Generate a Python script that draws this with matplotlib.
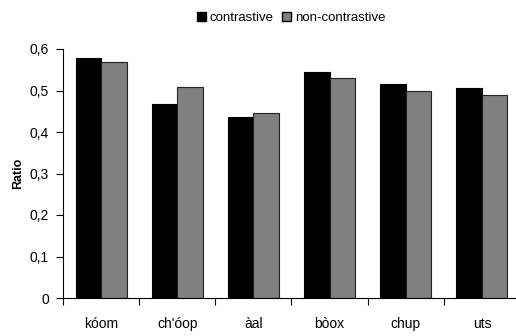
import numpy as np
import matplotlib.pyplot as plt
from matplotlib.patches import Patch

plt.rcParams['font.family'] = ['Liberation Sans', 'DejaVu Sans']

# data
categories = ['kóom', "ch'óop", 'àal', 'bòox', 'chup', 'uts']
contrastive = [0.578, 0.468, 0.435, 0.545, 0.516, 0.505]
non_contrastive = [0.569, 0.508, 0.446, 0.531, 0.500, 0.488]
yticks = [0, 0.1, 0.2, 0.3, 0.4, 0.5, 0.6]
ytick_labels = ['0', '0,1', '0,2', '0,3', '0,4', '0,5', '0,6']

fig = plt.figure(figsize=(5.16, 3.36), dpi=100)
ax = fig.add_axes([63 / 516, 38 / 336, (520 - 63) / 516, (298 - 49) / 336])

x = np.arange(len(categories))
w = 0.335
ax.bar(x - w / 2, contrastive, w, color='black', edgecolor='black', linewidth=0.8)
ax.bar(x + w / 2, non_contrastive, w, color='#808080', edgecolor='#202020', linewidth=0.8)

ax.set_xlim(-0.5, len(categories) - 0.5)
ax.set_ylim(0, 0.6)
ax.set_yticks(yticks)
ax.set_yticklabels(ytick_labels)
ax.set_xticks(np.arange(len(categories) + 1) - 0.5)
ax.set_xticklabels([])
ax.set_xticks(x, minor=True)
ax.set_xticklabels(categories, minor=True)
ax.tick_params(axis='x', which='minor', length=0, pad=14, labelsize=10)
ax.tick_params(axis='x', which='major', length=5, direction='out', width=0.8)
ax.tick_params(axis='y', length=5, direction='out', width=0.8, labelsize=10, pad=5)

for s in ['top', 'right']:
    ax.spines[s].set_visible(False)
for s in ['left', 'bottom']:
    ax.spines[s].set_linewidth(0.8)

ax.set_ylabel('Ratio', fontweight='bold', fontsize=9, labelpad=4)

handles = [Patch(facecolor='black', edgecolor='black', label='contrastive'),
           Patch(facecolor='#808080', edgecolor='black', label='non-contrastive')]
fig.legend(handles=handles, loc='center', bbox_to_anchor=(291 / 516, 1 - 18 / 336),
           ncol=2, frameon=False, fontsize=9.5, handlelength=0.7, handleheight=0.7,
           handletextpad=0.3, columnspacing=0.6)

fig.savefig('out.png', dpi=100)
